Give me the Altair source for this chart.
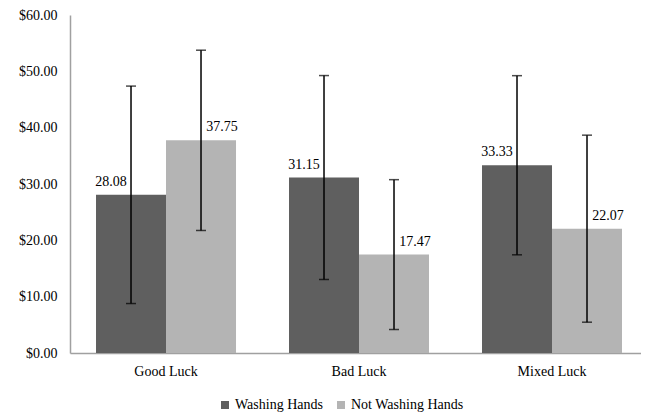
import altair as alt
import pandas as pd

categories = ["Good Luck", "Bad Luck", "Mixed Luck"]
series = ["Washing Hands", "Not Washing Hands"]
washing = [28.08, 31.15, 33.33]
not_washing = [37.75, 17.47, 22.07]
washing_err = [19.3, 18.1, 15.9]
not_washing_err = [16.0, 13.3, 16.6]
colors = ["#5f5f5f", "#b4b4b4"]
y_ticks = [0, 10, 20, 30, 40, 50, 60]

rows = []
for i, c in enumerate(categories):
    for s, vals, errs in ((series[0], washing, washing_err), (series[1], not_washing, not_washing_err)):
        rows.append(dict(cat=c, s=s, v=vals[i], lo=vals[i] - errs[i], hi=vals[i] + errs[i]))
df = pd.DataFrame(rows)

FONT = "Liberation Serif"

x = alt.X("cat:N", sort=categories,
          scale=alt.Scale(paddingInner=0.2746, paddingOuter=0.1166, align=0.578),
          axis=alt.Axis(title=None, labelAngle=0, ticks=False, labelFontSize=14,
                        labelFont=FONT, labelColor="black", labelPadding=11,
                        domainColor="#a0a0a0", domainWidth=1.5))
xo = alt.XOffset("s:N", sort=series, scale=alt.Scale(domain=series))
yscale = alt.Scale(domain=[0, 60], nice=False)
yaxis = alt.Axis(values=y_ticks, format="$.2f", title=None, grid=False, ticks=False,
                 labelFontSize=14, labelFont=FONT, labelColor="black", labelPadding=13,
                 domainColor="#a0a0a0", domainWidth=1.5)

def Y(field):
    return alt.Y(field, scale=yscale, axis=yaxis, title=None)

base = alt.Chart(df)

bars = base.mark_bar().encode(
    x=x, xOffset=xo, y=Y("v:Q"),
    color=alt.Color("s:N", sort=series, scale=alt.Scale(domain=series, range=colors),
                    legend=alt.Legend(orient="none", legendX=148, legendY=383, direction="horizontal",
                                      title=None, symbolType="square", symbolSize=64,
                                      labelFontSize=14, labelFont=FONT, labelColor="black",
                                      columnPadding=11, labelOffset=3, symbolStrokeWidth=0)),
)

rules = base.mark_rule(color="black", strokeWidth=1.5).encode(
    x=x, xOffset=xo, y=Y("lo:Q"), y2="hi:Q")
cap_lo = base.mark_tick(color="black", size=10, thickness=1.5).encode(
    x=x, xOffset=xo, y=Y("lo:Q"))
cap_hi = base.mark_tick(color="black", size=10, thickness=1.5).encode(
    x=x, xOffset=xo, y=Y("hi:Q"))

lab_w = base.transform_filter(alt.datum.s == series[0]).mark_text(
    font=FONT, fontSize=14, color="black", baseline="alphabetic", dx=-20, dy=-9).encode(
    x=x, xOffset=xo, y=Y("v:Q"), text=alt.Text("v:Q", format=".2f"))
lab_n = base.transform_filter(alt.datum.s == series[1]).mark_text(
    font=FONT, fontSize=14, color="black", baseline="alphabetic", dx=21, dy=-9).encode(
    x=x, xOffset=xo, y=Y("v:Q"), text=alt.Text("v:Q", format=".2f"))

chart = alt.layer(bars, rules, cap_lo, cap_hi, lab_w, lab_n).properties(
    width=571, height=338,
    autosize=alt.AutoSizeParams(type="none"),
    padding={"left": 62, "top": 7, "right": 0, "bottom": 59},
    background="white",
).configure_view(stroke=None)

chart.save("out.html", embed_options={"renderer": "svg", "actions": False})
